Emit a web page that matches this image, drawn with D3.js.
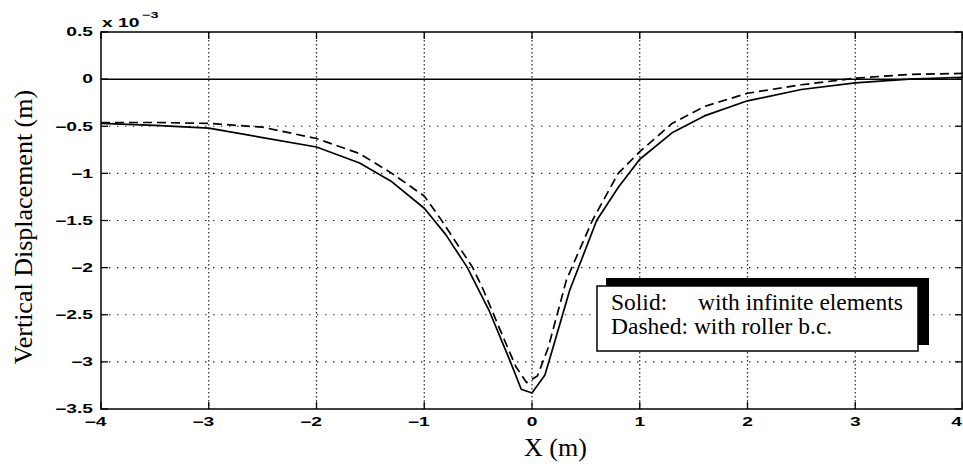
<!DOCTYPE html>
<html>
<head>
<meta charset="utf-8">
<script src="https://cdn.jsdelivr.net/npm/d3@7"></script>
<style>
  html, body { margin: 0; padding: 0; background: #fff; }
  svg { display: block; }
</style>
</head>
<body>
<svg id="chart" width="963" height="464"></svg>
<script>
// Surface settlement profile, values in units of 1e-3 m
const solidX  = [-4.0, -3.5, -3.0, -2.5, -2.0, -1.6, -1.3, -1.0, -0.8, -0.6, -0.4, -0.2, -0.1, 0.0, 0.12, 0.2, 0.35, 0.6, 0.8, 1.0, 1.3, 1.6, 2.0, 2.5, 3.0, 3.5, 4.0];
const solidY  = [-0.47, -0.49, -0.52, -0.62, -0.72, -0.89, -1.09, -1.37, -1.65, -2.0, -2.45, -3.0, -3.29, -3.33, -3.14, -2.83, -2.24, -1.5, -1.15, -0.85, -0.57, -0.39, -0.23, -0.11, -0.04, 0.0, 0.02];
const dashedX = [-4.0, -3.5, -3.0, -2.5, -2.0, -1.6, -1.3, -1.0, -0.85, -0.55, -0.45, -0.3, -0.15, -0.05, 0.05, 0.15, 0.32, 0.56, 0.8, 1.0, 1.3, 1.6, 2.0, 2.5, 3.0, 3.5, 4.0];
const dashedY = [-0.46, -0.46, -0.47, -0.51, -0.63, -0.79, -1.0, -1.24, -1.48, -2.0, -2.24, -2.65, -3.05, -3.22, -3.15, -2.85, -2.13, -1.5, -1.0, -0.77, -0.47, -0.29, -0.15, -0.06, 0.01, 0.05, 0.06];

const xTicks = [-4, -3, -2, -1, 0, 1, 2, 3, 4];
const xTickLabels = ["\u22124", "\u22123", "\u22122", "\u22121", "0", "1", "2", "3", "4"];
const yTicks = [0.5, 0, -0.5, -1, -1.5, -2, -2.5, -3, -3.5];
const yTickLabels = ["0.5", "0", "\u22120.5", "\u22121", "\u22121.5", "\u22122", "\u22122.5", "\u22123", "\u22123.5"];

const legendLines = [["Solid:", "with infinite elements"], ["Dashed: with roller b.c.", ""]];

const SANS = "'Liberation Sans', Arial, Helvetica, sans-serif";
const SERIF = "'Liberation Serif', 'Times New Roman', Times, serif";
const STRETCH = 1.6;

const svg = d3.select("#chart");
const plotL = 101, plotR = 962, plotT = 32, plotB = 409;

const x = d3.scaleLinear().domain([-4, 4]).range([plotL, 963]);
const y = d3.scaleLinear().domain([-3.5, 0.5]).range([plotB, plotT]);

// dotted grid
const grid = svg.append("g");
grid.selectAll("line.vg").data(xTicks.slice(1, -1)).join("line")
  .attr("x1", d => x(d)).attr("x2", d => x(d))
  .attr("y1", plotT).attr("y2", plotB)
  .attr("stroke", "#222").attr("stroke-width", 1.2)
  .attr("stroke-dasharray", "1.4 2.6");
grid.selectAll("line.hg").data(yTicks.slice(1, -1).filter(d => d !== 0)).join("line")
  .attr("x1", plotL).attr("x2", plotR)
  .attr("y1", d => y(d)).attr("y2", d => y(d))
  .attr("stroke", "#222").attr("stroke-width", 1.2)
  .attr("stroke-dasharray", "1.4 6.6");

// zero reference line
svg.append("line")
  .attr("x1", plotL).attr("x2", plotR)
  .attr("y1", y(0)).attr("y2", y(0))
  .attr("stroke", "#000").attr("stroke-width", 1.5);

// curves
const line = d3.line().x(d => x(d[0])).y(d => y(d[1]));
svg.append("path")
  .datum(solidX.map((v, i) => [v, solidY[i]]))
  .attr("d", line).attr("fill", "none")
  .attr("stroke", "#000").attr("stroke-width", 1.7)
  .attr("stroke-linejoin", "round");
svg.append("path")
  .datum(dashedX.map((v, i) => [v, dashedY[i]]))
  .attr("d", line).attr("fill", "none")
  .attr("stroke", "#000").attr("stroke-width", 1.7)
  .attr("stroke-dasharray", "9 5");

// frame
svg.append("rect")
  .attr("x", plotL).attr("y", plotT)
  .attr("width", plotR - plotL).attr("height", plotB - plotT)
  .attr("fill", "none").attr("stroke", "#000").attr("stroke-width", 1.5);

// inward ticks on all four sides
const tickLen = 7;
const ticks = svg.append("g").attr("stroke", "#000").attr("stroke-width", 1.3);
xTicks.forEach(t => {
  ticks.append("line").attr("x1", x(t)).attr("x2", x(t)).attr("y1", plotB).attr("y2", plotB - tickLen);
  ticks.append("line").attr("x1", x(t)).attr("x2", x(t)).attr("y1", plotT).attr("y2", plotT + tickLen);
});
yTicks.forEach(t => {
  ticks.append("line").attr("x1", plotL).attr("x2", plotL + tickLen).attr("y1", y(t)).attr("y2", y(t));
  ticks.append("line").attr("x1", plotR).attr("x2", plotR - tickLen).attr("y1", y(t)).attr("y2", y(t));
});

// tick labels (digit centred under its tick, kept inside the page)
const digitHalf = 12 * 0.556 * STRETCH / 2;
svg.append("g").selectAll("text").data(xTicks).join("text")
  .attr("transform", d => `translate(${Math.min(x(d) + digitHalf, 962)},426) scale(${STRETCH},1)`)
  .attr("text-anchor", "end")
  .attr("font-family", SANS).attr("font-size", 12).attr("font-weight", "bold").attr("fill", "#000")
  .text((d, i) => xTickLabels[i]);

svg.append("g").selectAll("text").data(yTicks).join("text")
  .attr("transform", d => `translate(93,${y(d) + 4.3}) scale(${STRETCH},1)`)
  .attr("text-anchor", "end")
  .attr("font-family", SANS).attr("font-size", 12).attr("font-weight", "bold").attr("fill", "#000")
  .text((d, i) => yTickLabels[i]);

// exponent marker
svg.append("text")
  .attr("transform", `translate(102,27) scale(${STRETCH},1)`)
  .attr("font-family", SANS).attr("font-size", 12).attr("font-weight", "bold").text("x 10");
svg.append("text")
  .attr("transform", `translate(142,18) scale(${STRETCH},1)`)
  .attr("font-family", SANS).attr("font-size", 9).attr("font-weight", "bold").text("\u22123");

// axis titles
svg.append("text")
  .attr("x", 524).attr("y", 456)
  .attr("font-family", SERIF).attr("font-size", 26).text("X (m)");
svg.append("text")
  .attr("transform", "translate(32,227) rotate(-90)")
  .attr("text-anchor", "middle")
  .attr("font-family", SERIF).attr("font-size", 26)
  .text("Vertical Displacement (m)");

// legend box with offset shadow
const lg = svg.append("g");
lg.append("rect").attr("x", 606).attr("y", 278).attr("width", 323).attr("height", 67).attr("fill", "#000");
lg.append("rect").attr("x", 597).attr("y", 286).attr("width", 321).attr("height", 65)
  .attr("fill", "#fff").attr("stroke", "#000").attr("stroke-width", 1.5);
lg.append("text").attr("x", 611).attr("y", 310)
  .attr("font-family", SERIF).attr("font-size", 23.5).text(legendLines[0][0]);
lg.append("text").attr("x", 698).attr("y", 310)
  .attr("font-family", SERIF).attr("font-size", 23.5).text(legendLines[0][1]);
lg.append("text").attr("x", 611).attr("y", 334)
  .attr("font-family", SERIF).attr("font-size", 23.5).text(legendLines[1][0]);
</script>
</body>
</html>
